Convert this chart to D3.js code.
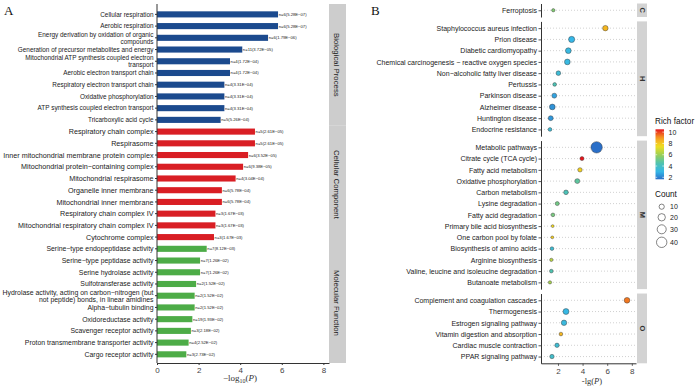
<!DOCTYPE html>
<html>
<head>
<meta charset="utf-8">
<script src="https://cdn.jsdelivr.net/npm/d3@7"></script>
<style>
  body { margin: 0; background: #fff; }
  svg { display: block; }
  text { font-family: "Liberation Sans", Arial, sans-serif; }
  .serif { font-family: "Liberation Serif", "Times New Roman", serif; }
</style>
</head>
<body>
<svg id="chart" width="700" height="387"></svg>
<script>
// ---- panel A data (GO enrichment) ----
var goTerms = [
  'Cellular respiration', 'Aerobic respiration',
  'Energy derivation by oxidation of organic\ncompounds',
  'Generation of precursor metabolites and energy',
  'Mitochondrial ATP synthesis coupled electron\ntransport',
  'Aerobic electron transport chain', 'Respiratory electron transport chain',
  'Oxidative phosphorylation', 'ATP synthesis coupled electron transport',
  'Tricarboxylic acid cycle',
  'Respiratory chain complex', 'Respirasome',
  'Inner mitochondrial membrane protein complex',
  'Mitochondrial protein\u2212containing complex', 'Mitochondrial respirasome',
  'Organelle inner membrane', 'Mitochondrial inner membrane',
  'Respiratory chain complex IV', 'Mitochondrial respiratory chain complex IV',
  'Cytochrome complex',
  'Serine\u2212type endopeptidase activity', 'Serine\u2212type peptidase activity',
  'Serine hydrolase activity', 'Sulfotransferase activity',
  'Hydrolase activity, acting on carbon\u2212nitrogen (but\nnot peptide) bonds, in linear amidines',
  'Alpha\u2212tubulin binding', 'Oxidoreductase activity', 'Scavenger receptor activity',
  'Proton transmembrane transporter activity', 'Cargo receptor activity'
];
var goCategories = ['Biological Process', 'Cellular Component', 'Molecular Function'];
var goCategoryOf = [0,0,0,0,0,0,0,0,0,0, 1,1,1,1,1,1,1,1,1,1, 2,2,2,2,2,2,2,2,2,2];
var goScores = [5.82, 5.82, 5.34, 4.10, 3.51, 3.51, 3.24, 3.24, 3.24, 3.06,
                4.71, 4.71, 4.38, 4.14, 3.78, 3.12, 3.12, 2.81, 2.81, 2.74,
                2.39, 2.07, 2.07, 1.88, 1.81, 1.81, 1.70, 1.63, 1.52, 1.41];
var goCounts = [6, 6, 6, 11, 4, 4, 4, 4, 4, 5,
                5, 5, 6, 6, 4, 6, 6, 3, 3, 3,
                7, 7, 7, 2, 2, 2, 19, 3, 4, 3];
var goPvalues = ['5.28E\u221207', '5.28E\u221207', '1.79E\u221206', '3.72E\u221205', '1.72E\u221204',
                 '1.72E\u221204', '3.31E\u221204', '3.31E\u221204', '3.31E\u221204', '5.26E\u221204',
                 '2.61E\u221205', '2.61E\u221205', '3.52E\u221205', '9.38E\u221205', '3.04E\u221204',
                 '5.78E\u221204', '5.78E\u221204', '1.67E\u221203', '1.67E\u221203', '1.67E\u221203',
                 '8.12E\u221203', '1.26E\u221202', '1.26E\u221202', '1.52E\u221202', '1.52E\u221202',
                 '1.52E\u221202', '1.93E\u221202', '2.18E\u221202', '2.52E\u221202', '2.73E\u221202'];
var goColors = ['#1B4A8E', '#D91E24', '#4DAC47'];
var goLabelSizes = [6.4, 7.2, 6.9];
var goTicks = [0, 2, 4, 6, 8];

// ---- panel B data (KEGG enrichment) ----
var keggGroups = ['C', 'H', 'M', 'O'];
var keggTerms = [
  'Ferroptosis',
  'Staphylococcus aureus infection', 'Prion disease', 'Diabetic cardiomyopathy',
  'Chemical carcinogenesis \u2212 reactive oxygen species', 'Non\u2212alcoholic fatty liver disease',
  'Pertussis', 'Parkinson disease', 'Alzheimer disease', 'Huntington disease', 'Endocrine resistance',
  'Metabolic pathways', 'Citrate cycle (TCA cycle)', 'Fatty acid metabolism',
  'Oxidative phosphorylation', 'Carbon metabolism', 'Lysine degradation', 'Fatty acid degradation',
  'Primary bile acid biosynthesis', 'One carbon pool by folate', 'Biosynthesis of amino acids',
  'Arginine biosynthesis', 'Valine, leucine and isoleucine degradation', 'Butanoate metabolism',
  'Complement and coagulation cascades', 'Thermogenesis', 'Estrogen signaling pathway',
  'Vitamin digestion and absorption', 'Cardiac muscle contraction', 'PPAR signaling pathway'
];
var keggGroupOf = ['C', 'H','H','H','H','H','H','H','H','H','H',
                   'M','M','M','M','M','M','M','M','M','M','M','M','M',
                   'O','O','O','O','O','O'];
var keggLgP = [1.62,
               5.85, 3.11, 2.84, 2.76, 2.03, 1.73, 1.70, 1.54, 1.41, 1.35,
               5.14, 3.95, 3.79, 3.57, 2.65, 1.94, 1.59, 1.57, 1.54, 1.51, 1.46, 1.46, 1.35,
               7.61, 2.65, 2.49, 2.24, 1.92, 1.51];
var keggCounts = [4,
                  11, 14, 12, 12, 8, 5, 9, 12, 9, 5,
                  48, 6, 7, 9, 8, 6, 5, 3, 3, 5, 4, 5, 4,
                  12, 13, 11, 5, 7, 7];
var keggRich = [5.5,
                8.4, 3.0, 3.2, 3.2, 3.5, 4.4, 2.6, 2.3, 2.4, 3.5,
                1.65, 10.5, 7.8, 4.8, 4.3, 5.2, 5.3, 7.6, 7.9, 3.6, 6.5, 4.5, 6.2,
                9.4, 3.1, 3.3, 8.4, 3.6, 3.8];
var richStops = [1.65, 3, 4.5, 6, 7.5, 9, 10.5];
var richColors = ['#2A6FC8', '#35B7E8', '#4FC3B0', '#9CCF55', '#F2DF1E', '#F59A22', '#E6151B'];
var richTicks = [2, 4, 6, 8, 10];
var countTicks = [10, 20, 30, 40];
var bTicks = [2, 4, 6, 8];

var svg = d3.select('#chart');

// ================= panel A =================
var xA = d3.scaleLinear().domain([0, 8.27]).range([157, 329]);
var yA = d3.scaleBand().domain(d3.range(goTerms.length)).range([5.7, 363]).padding(0.48);

svg.append('text').attr('class', 'serif').attr('x', 4).attr('y', 15)
  .attr('font-size', 13).attr('fill', '#111').text('A');

// strips
var halfGap = (yA.step() - yA.bandwidth()) / 2;
var stripEdges = [4, yA(10) - halfGap, yA(20) - halfGap, 363];
goCategories.forEach(function(cat, i) {
  svg.append('rect').attr('x', 329).attr('y', stripEdges[i])
    .attr('width', 17).attr('height', stripEdges[i + 1] - stripEdges[i])
    .attr('fill', '#CDCDCD');
  var cy = (stripEdges[i] + stripEdges[i + 1]) / 2;
  svg.append('text').attr('transform', 'translate(334,' + cy + ') rotate(90)')
    .attr('text-anchor', 'middle').attr('font-size', 7.8).attr('fill', '#1a1a1a')
    .text(cat);
});

svg.append('g').selectAll('rect').data(goScores).enter().append('rect')
  .attr('x', xA(0))
  .attr('y', function(d, i) { return yA(i); })
  .attr('width', function(d) { return xA(d) - xA(0); })
  .attr('height', yA.bandwidth())
  .attr('fill', function(d, i) { return goColors[goCategoryOf[i]]; });

svg.append('g').selectAll('text').data(goScores).enter().append('text')
  .attr('x', function(d) { return xA(d) + 0.6; })
  .attr('y', function(d, i) { return yA(i) + yA.bandwidth() / 2 + 1.5; })
  .attr('font-size', 4.2).attr('fill', '#222')
  .text(function(d, i) { return 'n=' + goCounts[i] + '(' + goPvalues[i] + ')'; });

var axisAy = svg.append('g').attr('transform', 'translate(157,0)')
  .call(d3.axisLeft(yA).tickSize(2).tickSizeOuter(0).tickPadding(1.5)
    .tickFormat(function(i) { return goTerms[i]; }));
axisAy.select('.domain').attr('d', 'M0,4V363').attr('stroke', '#333').attr('stroke-width', 1);
axisAy.selectAll('.tick line').attr('stroke', '#333');
axisAy.selectAll('.tick text').each(function(i) {
  var lines = goTerms[i].split('\n');
  var t = d3.select(this).text(null)
    .attr('font-size', goLabelSizes[goCategoryOf[i]]).attr('fill', '#1a1a1a')
    .attr('font-family', '"Liberation Sans", Arial, sans-serif');
  lines.forEach(function(line, k) {
    t.append('tspan').attr('x', -3.5)
      .attr('dy', k === 0 ? ((0.36 - (lines.length - 1) * 0.53) + 'em') : '1.06em')
      .text(line);
  });
}).attr('dy', null);

var axisAx = svg.append('g').attr('transform', 'translate(0,363)')
  .call(d3.axisBottom(xA).tickValues(goTicks).tickSize(2).tickSizeOuter(0).tickPadding(2));
axisAx.select('.domain').attr('stroke', '#333').attr('stroke-width', 1);
axisAx.selectAll('.tick line').attr('stroke', '#333');
axisAx.selectAll('.tick text').attr('font-size', 8).attr('fill', '#444')
  .attr('font-family', '"Liberation Serif", "Times New Roman", serif');

var titleA = svg.append('text').attr('class', 'serif').attr('x', 240).attr('y', 381)
  .attr('text-anchor', 'middle').attr('font-size', 9).attr('fill', '#333');
titleA.append('tspan').text('\u2212log');
titleA.append('tspan').attr('font-size', 6).attr('dy', 2).text('10');
titleA.append('tspan').attr('dy', -2).text('(');
titleA.append('tspan').attr('font-style', 'italic').text('P');
titleA.append('tspan').text(')');

// ================= panel B =================
svg.append('text').attr('class', 'serif').attr('x', 371).attr('y', 15)
  .attr('font-size', 13).attr('fill', '#111').text('B');

var xB = d3.scaleLinear().domain([0.62, 8.34]).range([541, 636]);
var colorB = d3.scaleLinear().domain(richStops).range(richColors);
var sizeB = d3.scaleSqrt().domain([0, 48]).range([0, 5.7]);

var bTop = 3.5, bBottom = 363.3, facetGap = 4.4;
var facetUnits = keggGroups.map(function(g) {
  return keggGroupOf.filter(function(x) { return x === g; }).length + 0.2;
});
var unit = (bBottom - bTop - facetGap * (keggGroups.length - 1)) / d3.sum(facetUnits);
var yCursor = bTop;
var facets = keggGroups.map(function(g, i) {
  var h = facetUnits[i] * unit;
  var idx = d3.range(keggTerms.length).filter(function(j) { return keggGroupOf[j] === g; });
  var f = { name: g, top: yCursor, bottom: yCursor + h, idx: idx,
            y: d3.scalePoint().domain(idx).range([yCursor, yCursor + h]).padding(0.6) };
  yCursor += h + facetGap;
  return f;
});

facets.forEach(function(f) {
  var g = svg.append('g');
  // strip
  g.append('rect').attr('x', 637).attr('y', f.top).attr('width', 10)
    .attr('height', f.bottom - f.top).attr('fill', '#D3D3D3');
  g.append('text').attr('transform', 'translate(639.5,' + ((f.top + f.bottom) / 2) + ') rotate(90)')
    .attr('text-anchor', 'middle').attr('font-size', 7.5).attr('font-weight', 'bold')
    .attr('fill', '#333').text(f.name);
  // dotted row lines
  g.selectAll('line.row').data(f.idx).enter().append('line')
    .attr('x1', 541).attr('x2', 636)
    .attr('y1', function(j) { return f.y(j); }).attr('y2', function(j) { return f.y(j); })
    .attr('stroke', '#BDBDBD').attr('stroke-width', 0.7).attr('stroke-dasharray', '1,2');
  // y axis
  var ax = g.append('g').attr('transform', 'translate(541,0)')
    .call(d3.axisLeft(f.y).tickSize(2.5).tickSizeOuter(0).tickPadding(1.5)
      .tickFormat(function(j) { return keggTerms[j]; }));
  ax.select('.domain').attr('stroke', '#333').attr('stroke-width', 1);
  ax.selectAll('.tick line').attr('stroke', '#555');
  ax.selectAll('.tick text').attr('font-size', 7).attr('fill', '#1a1a1a')
    .attr('font-family', '"Liberation Sans", Arial, sans-serif');
  // points
  g.selectAll('circle').data(f.idx).enter().append('circle')
    .attr('cx', function(j) { return xB(keggLgP[j]); })
    .attr('cy', function(j) { return f.y(j); })
    .attr('r', function(j) { return sizeB(keggCounts[j]); })
    .attr('fill', function(j) { return colorB(keggRich[j]); })
    .attr('stroke', '#3a3a3a').attr('stroke-width', 0.45);
});

var axisBx = svg.append('g').attr('transform', 'translate(0,' + bBottom + ')')
  .call(d3.axisBottom(xB).tickValues(bTicks).tickSize(2.5).tickSizeOuter(0).tickPadding(2.5));
axisBx.select('.domain').attr('stroke', '#333').attr('stroke-width', 1);
axisBx.selectAll('.tick line').attr('stroke', '#555');
axisBx.selectAll('.tick text').attr('font-size', 8).attr('fill', '#444')
  .attr('font-family', '"Liberation Serif", "Times New Roman", serif');

var titleB = svg.append('text').attr('class', 'serif').attr('x', 592).attr('y', 384)
  .attr('text-anchor', 'middle').attr('font-size', 8.5).attr('fill', '#333');
titleB.append('tspan').text('-lg(');
titleB.append('tspan').attr('font-style', 'italic').text('P');
titleB.append('tspan').text(')');

// ---- legends ----
svg.append('text').attr('x', 655).attr('y', 123.5).attr('font-size', 8.2)
  .attr('fill', '#111').text('Rich factor');

var barScale = d3.scaleLinear().domain(d3.extent(keggRich)).range([179.3, 129.3]);
var grad = svg.append('defs').append('linearGradient').attr('id', 'richGrad')
  .attr('x1', 0).attr('y1', 1).attr('x2', 0).attr('y2', 0);
d3.range(0, 1.0001, 0.05).forEach(function(t) {
  var v = barScale.domain()[0] + t * (barScale.domain()[1] - barScale.domain()[0]);
  grad.append('stop').attr('offset', t).attr('stop-color', colorB(v));
});
svg.append('rect').attr('x', 655.5).attr('y', 129.3).attr('width', 8.5).attr('height', 50)
  .attr('fill', 'url(#richGrad)');
svg.append('g').selectAll('line').data(richTicks).enter().append('line')
  .attr('x1', 655.5).attr('x2', 657.2)
  .attr('y1', function(d) { return barScale(d); }).attr('y2', function(d) { return barScale(d); })
  .attr('stroke', '#fff').attr('stroke-width', 0.6);
svg.append('g').selectAll('line').data(richTicks).enter().append('line')
  .attr('x1', 662.3).attr('x2', 664)
  .attr('y1', function(d) { return barScale(d); }).attr('y2', function(d) { return barScale(d); })
  .attr('stroke', '#fff').attr('stroke-width', 0.6);
svg.append('g').selectAll('text').data(richTicks).enter().append('text')
  .attr('x', 668.5).attr('y', function(d) { return barScale(d) + 2.5; })
  .attr('font-size', 7).attr('fill', '#222').text(function(d) { return d; });

svg.append('text').attr('x', 655).attr('y', 197).attr('font-size', 8.2)
  .attr('fill', '#111').text('Count');
var countY = [206.7, 217.3, 229.3, 242.3];
svg.append('g').selectAll('circle').data(countTicks).enter().append('circle')
  .attr('cx', 661.7).attr('cy', function(d, i) { return countY[i]; })
  .attr('r', function(d) { return sizeB(d); })
  .attr('fill', '#fff').attr('stroke', '#333').attr('stroke-width', 0.6);
svg.append('g').selectAll('text').data(countTicks).enter().append('text')
  .attr('x', 670).attr('y', function(d, i) { return countY[i] + 2.5; })
  .attr('font-size', 7).attr('fill', '#222').text(function(d) { return d; });
</script>
</body>
</html>
